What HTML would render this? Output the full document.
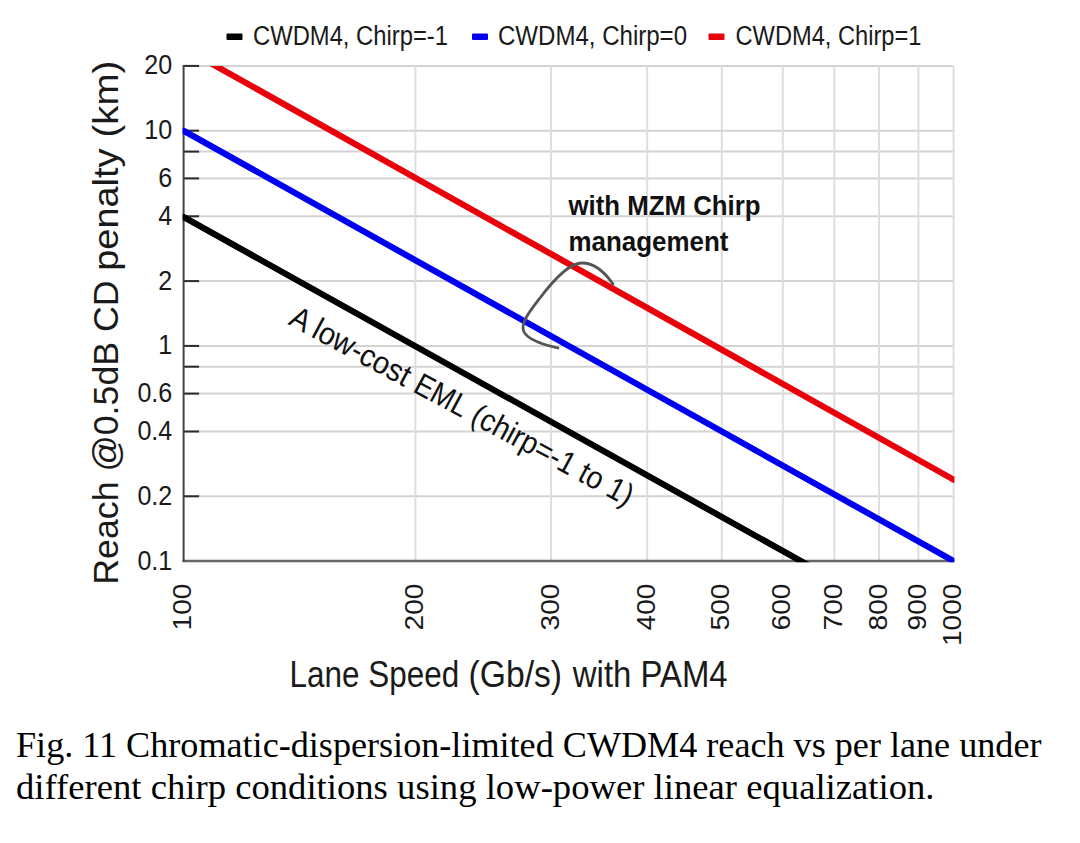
<!DOCTYPE html><html><head><meta charset="utf-8"><style>
html,body{margin:0;padding:0;background:#fff;width:1080px;height:843px;overflow:hidden}
svg{display:block}
text{font-family:"Liberation Sans",sans-serif}
.serif{font-family:"Liberation Serif",serif}
</style></head><body>
<svg width="1080" height="843" viewBox="0 0 1080 843">
<rect width="1080" height="843" fill="#fff"/>
<g stroke="#dedede" stroke-width="2"><line x1="183.6" y1="65.9" x2="953.6" y2="65.9" stroke="#d3d3d3"/><line x1="183.6" y1="130.7" x2="953.6" y2="130.7" stroke="#d3d3d3"/><line x1="183.6" y1="151.6" x2="953.6" y2="151.6" stroke="#d3d3d3"/><line x1="183.6" y1="178.4" x2="953.6" y2="178.4" stroke="#d3d3d3"/><line x1="183.6" y1="216.3" x2="953.6" y2="216.3" stroke="#d3d3d3"/><line x1="183.6" y1="281.1" x2="953.6" y2="281.1" stroke="#d3d3d3"/><line x1="183.6" y1="345.9" x2="953.6" y2="345.9" stroke="#d3d3d3"/><line x1="183.6" y1="366.7" x2="953.6" y2="366.7" stroke="#d3d3d3"/><line x1="183.6" y1="393.6" x2="953.6" y2="393.6" stroke="#d3d3d3"/><line x1="183.6" y1="431.5" x2="953.6" y2="431.5" stroke="#d3d3d3"/><line x1="183.6" y1="496.3" x2="953.6" y2="496.3" stroke="#d3d3d3"/><line x1="415.4" y1="65.9" x2="415.4" y2="561.0"/><line x1="551.0" y1="65.9" x2="551.0" y2="561.0"/><line x1="647.2" y1="65.9" x2="647.2" y2="561.0"/><line x1="721.8" y1="65.9" x2="721.8" y2="561.0"/><line x1="782.8" y1="65.9" x2="782.8" y2="561.0"/><line x1="834.3" y1="65.9" x2="834.3" y2="561.0"/><line x1="879.0" y1="65.9" x2="879.0" y2="561.0"/><line x1="918.4" y1="65.9" x2="918.4" y2="561.0"/><line x1="953.6" y1="65.9" x2="953.6" y2="561.0"/></g>
<g stroke="#2a2a2a" stroke-width="2"><line x1="183.6" y1="65.9" x2="199.1" y2="65.9"/><line x1="183.6" y1="130.7" x2="199.1" y2="130.7"/><line x1="183.6" y1="151.6" x2="199.1" y2="151.6"/><line x1="183.6" y1="178.4" x2="199.1" y2="178.4"/><line x1="183.6" y1="216.3" x2="199.1" y2="216.3"/><line x1="183.6" y1="281.1" x2="199.1" y2="281.1"/><line x1="183.6" y1="345.9" x2="199.1" y2="345.9"/><line x1="183.6" y1="366.7" x2="199.1" y2="366.7"/><line x1="183.6" y1="393.6" x2="199.1" y2="393.6"/><line x1="183.6" y1="431.5" x2="199.1" y2="431.5"/><line x1="183.6" y1="496.3" x2="199.1" y2="496.3"/></g>
<line x1="182.6" y1="561.0" x2="954.1" y2="561.0" stroke="#666" stroke-width="2.3"/>
<line x1="183.6" y1="65.1" x2="183.6" y2="562.0" stroke="#444" stroke-width="2"/>
<clipPath id="c"><rect x="182.6" y="65.9" width="771.8" height="496.3"/></clipPath>
<g clip-path="url(#c)"><line x1="183.60" y1="217.04" x2="953.60" y2="646.15" stroke="#000" stroke-width="6.2" stroke-linecap="round"/></g>
<g clip-path="url(#c)"><line x1="183.60" y1="130.70" x2="953.60" y2="561.02" stroke="#0000f0" stroke-width="6.2" stroke-linecap="round"/></g>
<g clip-path="url(#c)"><line x1="183.60" y1="47.96" x2="953.60" y2="479.65" stroke="#e8000a" stroke-width="6.2" stroke-linecap="round"/></g>
<g font-size="27" fill="#1a1a1a"><text transform="translate(172.3,74.4) scale(0.93,1)" text-anchor="end">20</text><text transform="translate(172.3,139.2) scale(0.93,1)" text-anchor="end">10</text><text transform="translate(172.3,186.9) scale(0.93,1)" text-anchor="end">6</text><text transform="translate(172.3,224.8) scale(0.93,1)" text-anchor="end">4</text><text transform="translate(172.3,289.6) scale(0.93,1)" text-anchor="end">2</text><text transform="translate(172.3,354.4) scale(0.93,1)" text-anchor="end">1</text><text transform="translate(172.3,402.1) scale(0.93,1)" text-anchor="end">0.6</text><text transform="translate(172.3,440.0) scale(0.93,1)" text-anchor="end">0.4</text><text transform="translate(172.3,504.8) scale(0.93,1)" text-anchor="end">0.2</text><text transform="translate(172.3,569.5) scale(0.93,1)" text-anchor="end">0.1</text></g>
<g font-size="26" fill="#1a1a1a"><text transform="translate(191.2,583.6) rotate(-90) scale(1.08,1)" text-anchor="end">100</text><text transform="translate(423.0,583.6) rotate(-90) scale(1.08,1)" text-anchor="end">200</text><text transform="translate(558.6,583.6) rotate(-90) scale(1.08,1)" text-anchor="end">300</text><text transform="translate(654.8,583.6) rotate(-90) scale(1.08,1)" text-anchor="end">400</text><text transform="translate(729.4,583.6) rotate(-90) scale(1.08,1)" text-anchor="end">500</text><text transform="translate(790.4,583.6) rotate(-90) scale(1.08,1)" text-anchor="end">600</text><text transform="translate(841.9,583.6) rotate(-90) scale(1.08,1)" text-anchor="end">700</text><text transform="translate(886.6,583.6) rotate(-90) scale(1.08,1)" text-anchor="end">800</text><text transform="translate(926.0,583.6) rotate(-90) scale(1.08,1)" text-anchor="end">900</text><text transform="translate(961.2,583.6) rotate(-90) scale(1.08,1)" text-anchor="end">1000</text></g>
<text x="289.62" y="686.7" font-size="36.5" fill="#1a1a1a" textLength="169.51" lengthAdjust="spacingAndGlyphs">Lane Speed</text>
<text x="468.56" y="686.7" font-size="36.5" fill="#1a1a1a" textLength="93.46" lengthAdjust="spacingAndGlyphs">(Gb/s)</text>
<text x="572.8" y="686.7" font-size="36.5" fill="#1a1a1a" textLength="154.88" lengthAdjust="spacingAndGlyphs">with PAM4</text>
<g transform="translate(117.7,581.7) rotate(-90)" font-size="35" fill="#1a1a1a"><text x="-3.06" y="0" textLength="304.36" lengthAdjust="spacingAndGlyphs">Reach @0.5dB CD</text><text x="310.93" y="0" textLength="122.23" lengthAdjust="spacingAndGlyphs">penalty</text><text x="444.2" y="0" textLength="76.86" lengthAdjust="spacingAndGlyphs">(km)</text></g>
<rect x="226.5" y="33.4" width="16" height="6.6" rx="1" fill="#000"/><text x="253" y="45.2" font-size="27" fill="#1a1a1a" textLength="195" lengthAdjust="spacingAndGlyphs">CWDM4, Chirp=-1</text><rect x="472" y="33.4" width="16" height="6.6" rx="1" fill="#0000f0"/><text x="498" y="45.2" font-size="27" fill="#1a1a1a" textLength="189" lengthAdjust="spacingAndGlyphs">CWDM4, Chirp=0</text><rect x="708.5" y="33.4" width="16" height="6.6" rx="1" fill="#e8000a"/><text x="735.5" y="45.2" font-size="27" fill="#1a1a1a" textLength="186" lengthAdjust="spacingAndGlyphs">CWDM4, Chirp=1</text>
<text x="568.5" y="215" font-size="28.5" font-weight="bold" fill="#111" textLength="192" lengthAdjust="spacingAndGlyphs">with MZM Chirp</text>
<text x="568.5" y="250.6" font-size="28.5" font-weight="bold" fill="#111" textLength="160" lengthAdjust="spacingAndGlyphs">management</text>
<path d="M613,284 C606,274 595,263 582,263 C568,263 552,282 540,298 C530,311 523,320 523,328 C523,338 540,344 558,348" fill="none" stroke="#555" stroke-width="2.8" stroke-linecap="round"/>
<g transform="translate(286.5,323.7) rotate(28.3)" font-size="31.5" fill="#111"><text x="0.8" y="0" textLength="132.72" lengthAdjust="spacingAndGlyphs">A low-cost</text><text x="142.27" y="0" textLength="56.71" lengthAdjust="spacingAndGlyphs">EML</text><text x="207.18" y="0" textLength="179.09" lengthAdjust="spacingAndGlyphs">(chirp=-1 to 1)</text></g>
<text class="serif" x="16" y="757" font-size="36.5" fill="#000" textLength="1025.5" lengthAdjust="spacingAndGlyphs">Fig. 11 Chromatic-dispersion-limited CWDM4 reach vs per lane under</text>
<text class="serif" x="16" y="798.5" font-size="36.5" fill="#000" textLength="918.5" lengthAdjust="spacingAndGlyphs">different chirp conditions using low-power linear equalization.</text>
</svg></body></html>
